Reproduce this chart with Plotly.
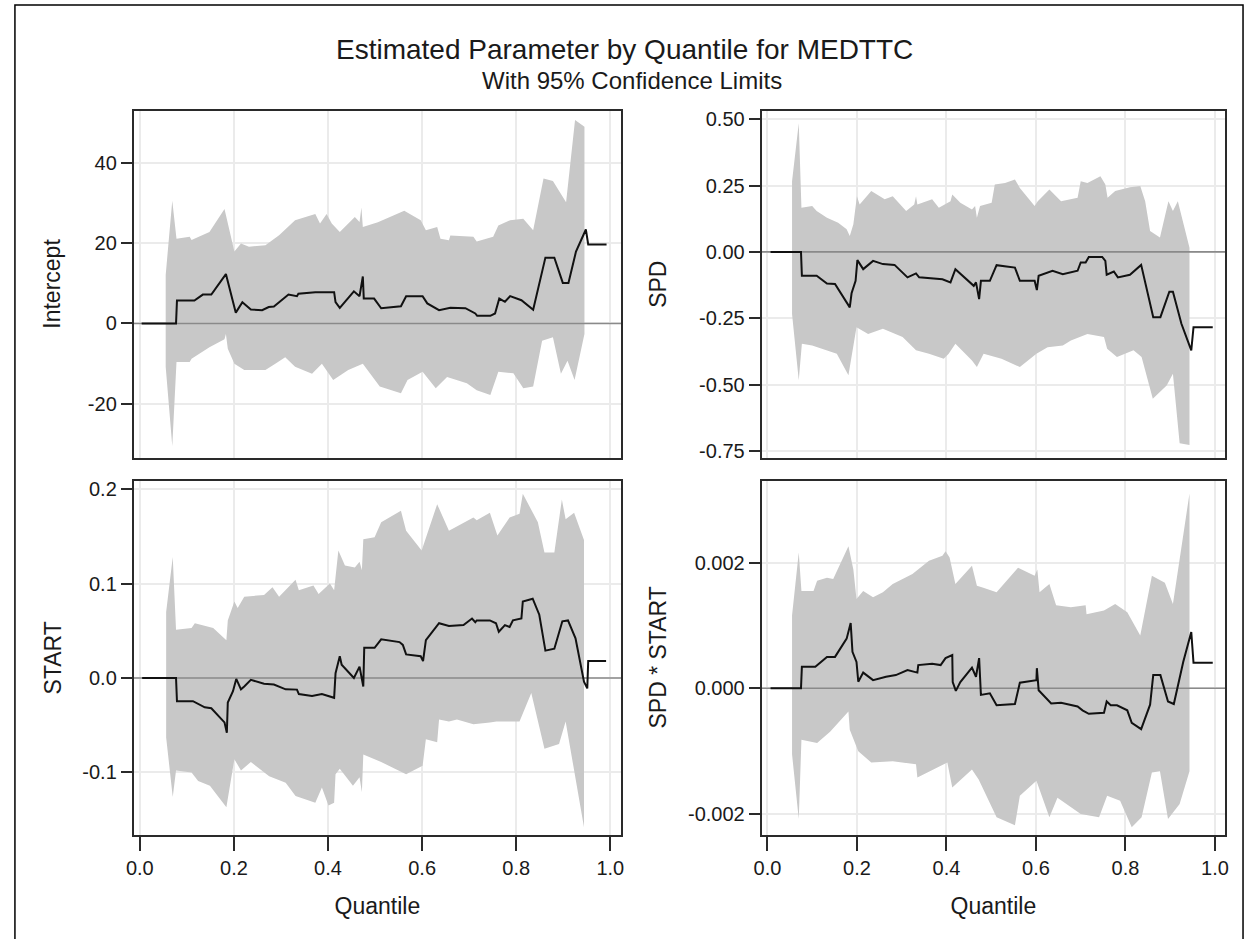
import plotly.graph_objects as go

W, H = 1250, 939

# ---------------- DATA ----------------
# Intercept
int_est_q = [0.004, 0.077, 0.079, 0.116, 0.134, 0.152, 0.183, 0.187, 0.204, 0.218, 0.236, 0.26, 0.274, 0.285,
             0.316, 0.334, 0.337, 0.373, 0.413, 0.416, 0.425, 0.455, 0.467, 0.474, 0.476, 0.498, 0.513, 0.555,
             0.566, 0.601, 0.611, 0.636, 0.66, 0.692, 0.706, 0.713, 0.717, 0.745, 0.755, 0.764, 0.776, 0.787,
             0.811, 0.836, 0.862, 0.881, 0.899, 0.911, 0.927, 0.948, 0.953, 0.992]
int_est_v = [0, 0, 5.7, 5.7, 7.2, 7.2, 12.3, 10.5, 2.7, 5.3, 3.5, 3.3, 4.1, 4.2,
             7.2, 6.8, 7.4, 7.8, 7.8, 5.3, 3.9, 8.0, 6.8, 11.7, 6.2, 6.2, 3.8, 4.3,
             6.8, 6.8, 5.0, 3.3, 3.9, 3.8, 3.0, 2.5, 1.9, 1.9, 2.5, 6.2, 5.4, 6.8,
             5.8, 3.4, 16.4, 16.4, 10.1, 10.1, 17.9, 23.4, 19.7, 19.7]
int_up_q = [0.055, 0.069, 0.078, 0.106, 0.11, 0.148, 0.180, 0.201, 0.215, 0.232, 0.267, 0.296, 0.33, 0.373,
            0.383, 0.397, 0.408, 0.425, 0.457, 0.467, 0.471, 0.474, 0.506, 0.562, 0.597, 0.608, 0.632, 0.639,
            0.657, 0.66, 0.709, 0.716, 0.751, 0.762, 0.787, 0.815, 0.836, 0.858, 0.878, 0.906, 0.925, 0.945]
int_up_v = [12.1, 30.6, 21.1, 21.6, 20.8, 22.8, 28.5, 17.9, 19.9, 19.1, 19.5, 22.0, 25.7, 27.3,
            24.9, 27.3, 24.9, 22.8, 26.5, 25.3, 28.9, 24.0, 25.2, 28.1, 25.7, 23.2, 24.0, 21.1,
            20.7, 21.9, 21.6, 20.4, 21.6, 24.4, 25.7, 26.1, 23.2, 36.1, 35.5, 30.2, 50.7, 49.0]
int_lo_q = [0.055, 0.069, 0.078, 0.106, 0.11, 0.148, 0.18, 0.183, 0.187, 0.201, 0.222, 0.267, 0.288, 0.309,
            0.33, 0.366, 0.387, 0.411, 0.443, 0.474, 0.51, 0.555, 0.569, 0.601, 0.629, 0.653, 0.695, 0.716,
            0.745, 0.762, 0.794, 0.815, 0.836, 0.855, 0.878, 0.895, 0.909, 0.924, 0.945]
int_lo_v = [-10.8, -30.5, -9.6, -9.6, -8.8, -5.9, -3.9, -2.6, -6.3, -10.0, -11.6, -11.6, -10.0, -8.4,
            -10.8, -12.5, -10.0, -14.1, -11.6, -10.0, -15.7, -17.4, -14.1, -12.0, -16.1, -13.3, -14.9, -16.6,
            -17.8, -12.0, -12.4, -16.1, -15.7, -4.3, -3.4, -12.5, -9.3, -14.1, -2.6]

# SPD
spd_est_q = [0.007, 0.075, 0.077, 0.11, 0.133, 0.151, 0.184, 0.188, 0.197, 0.201, 0.214, 0.236, 0.258, 0.284,
             0.313, 0.332, 0.339, 0.391, 0.409, 0.42, 0.461, 0.466, 0.473, 0.477, 0.497, 0.512, 0.534, 0.553,
             0.564, 0.597, 0.602, 0.606, 0.637, 0.66, 0.693, 0.7, 0.711, 0.718, 0.748, 0.755, 0.758, 0.774,
             0.783, 0.81, 0.835, 0.862, 0.878, 0.898, 0.906, 0.925, 0.947, 0.952, 0.995]
spd_est_v = [0, 0, -0.09, -0.09, -0.119, -0.121, -0.209, -0.156, -0.109, -0.031, -0.065, -0.034, -0.046, -0.049,
             -0.096, -0.081, -0.096, -0.103, -0.115, -0.065, -0.128, -0.115, -0.178, -0.109, -0.109, -0.05, -0.055, -0.059,
             -0.109, -0.109, -0.144, -0.09, -0.071, -0.084, -0.071, -0.04, -0.04, -0.019, -0.019, -0.034, -0.086, -0.074,
             -0.096, -0.086, -0.049, -0.246, -0.246, -0.15, -0.15, -0.271, -0.371, -0.284, -0.284]
spd_up_q = [0.055, 0.07, 0.076, 0.1, 0.11, 0.133, 0.158, 0.177, 0.184, 0.192, 0.2, 0.206, 0.232, 0.262,
            0.28, 0.31, 0.328, 0.332, 0.335, 0.368, 0.383, 0.409, 0.413, 0.431, 0.457, 0.464, 0.468, 0.475,
            0.501, 0.508, 0.531, 0.553, 0.564, 0.597, 0.604, 0.63, 0.656, 0.693, 0.7, 0.715, 0.744, 0.755,
            0.76, 0.777, 0.81, 0.833, 0.844, 0.855, 0.877, 0.896, 0.906, 0.917, 0.943]
spd_up_v = [0.266, 0.485, 0.166, 0.173, 0.154, 0.129, 0.11, 0.085, 0.06, 0.104, 0.21, 0.179, 0.229, 0.198,
            0.21, 0.154, 0.179, 0.21, 0.179, 0.198, 0.166, 0.191, 0.216, 0.185, 0.16, 0.173, 0.129, 0.173,
            0.185, 0.254, 0.26, 0.273, 0.241, 0.173, 0.191, 0.235, 0.191, 0.204, 0.266, 0.26, 0.285, 0.254,
            0.204, 0.229, 0.244, 0.248, 0.191, 0.079, 0.054, 0.191, 0.154, 0.191, 0.016]
spd_lo_q = [0.055, 0.07, 0.077, 0.1, 0.155, 0.181, 0.199, 0.225, 0.258, 0.302, 0.332, 0.361, 0.394, 0.405,
            0.42, 0.457, 0.468, 0.483, 0.523, 0.564, 0.601, 0.626, 0.66, 0.678, 0.715, 0.752, 0.759, 0.781,
            0.818, 0.836, 0.861, 0.892, 0.906, 0.921, 0.943]
spd_lo_v = [-0.234, -0.484, -0.346, -0.353, -0.384, -0.465, -0.284, -0.309, -0.29, -0.321, -0.371, -0.384, -0.403, -0.384,
            -0.346, -0.409, -0.434, -0.384, -0.403, -0.434, -0.384, -0.359, -0.353, -0.334, -0.309, -0.321, -0.365, -0.396,
            -0.371, -0.396, -0.553, -0.503, -0.459, -0.721, -0.728]

# START
st_est_q = [0.005, 0.077, 0.079, 0.113, 0.138, 0.152, 0.18, 0.185, 0.187, 0.198, 0.205, 0.215, 0.222, 0.236,
            0.264, 0.285, 0.31, 0.334, 0.338, 0.366, 0.387, 0.413, 0.416, 0.425, 0.429, 0.455, 0.467, 0.472,
            0.475, 0.477, 0.499, 0.513, 0.552, 0.559, 0.566, 0.597, 0.602, 0.608, 0.636, 0.657, 0.688, 0.706,
            0.713, 0.716, 0.744, 0.757, 0.763, 0.776, 0.786, 0.793, 0.811, 0.814, 0.835, 0.849, 0.862, 0.881,
            0.898, 0.91, 0.926, 0.944, 0.951, 0.953, 0.991]
st_est_v = [0, 0, -0.0246, -0.0246, -0.031, -0.032, -0.047, -0.058, -0.026, -0.014, -0.001, -0.012, -0.009, -0.002,
            -0.006, -0.007, -0.012, -0.0123, -0.017, -0.019, -0.017, -0.021, 0.005, 0.023, 0.014, 0.0, 0.012, -0.002,
            -0.009, 0.032, 0.032, 0.041, 0.038, 0.035, 0.025, 0.023, 0.018, 0.04, 0.058, 0.055, 0.056, 0.063,
            0.059, 0.061, 0.061, 0.058, 0.049, 0.056, 0.054, 0.061, 0.063, 0.081, 0.084, 0.067, 0.029, 0.031,
            0.06, 0.061, 0.042, -0.004, -0.011, 0.018, 0.018]
st_up_q = [0.056, 0.07, 0.077, 0.11, 0.117, 0.156, 0.184, 0.187, 0.201, 0.208, 0.222, 0.264, 0.282, 0.296,
           0.331, 0.338, 0.369, 0.38, 0.404, 0.413, 0.422, 0.436, 0.457, 0.467, 0.472, 0.475, 0.499, 0.513,
           0.555, 0.566, 0.599, 0.611, 0.632, 0.657, 0.709, 0.716, 0.744, 0.76, 0.786, 0.807, 0.814, 0.846,
           0.86, 0.881, 0.897, 0.905, 0.923, 0.944]
st_up_v = [0.07, 0.128, 0.051, 0.053, 0.058, 0.053, 0.04, 0.061, 0.081, 0.074, 0.086, 0.088, 0.096, 0.086,
           0.104, 0.093, 0.098, 0.089, 0.1, 0.093, 0.135, 0.119, 0.117, 0.123, 0.114, 0.147, 0.149, 0.165,
           0.177, 0.156, 0.135, 0.153, 0.184, 0.156, 0.17, 0.167, 0.175, 0.151, 0.17, 0.174, 0.195, 0.165,
           0.133, 0.133, 0.189, 0.168, 0.175, 0.146]
st_lo_q = [0.056, 0.07, 0.077, 0.11, 0.124, 0.149, 0.184, 0.201, 0.215, 0.236, 0.275, 0.31, 0.331, 0.373,
           0.387, 0.401, 0.413, 0.416, 0.425, 0.453, 0.467, 0.472, 0.475, 0.513, 0.566, 0.601, 0.608, 0.632,
           0.636, 0.657, 0.674, 0.709, 0.744, 0.758, 0.807, 0.832, 0.86, 0.891, 0.905, 0.944]
st_lo_v = [-0.063, -0.126, -0.098, -0.1, -0.109, -0.114, -0.137, -0.086, -0.098, -0.089, -0.104, -0.111, -0.125, -0.132,
           -0.116, -0.135, -0.132, -0.102, -0.096, -0.114, -0.105, -0.121, -0.081, -0.089, -0.102, -0.093, -0.065, -0.068,
           -0.044, -0.046, -0.044, -0.049, -0.047, -0.046, -0.046, -0.016, -0.075, -0.07, -0.046, -0.158]

# SPD * START
ss_est_q = [0.007, 0.075, 0.077, 0.107, 0.133, 0.151, 0.177, 0.186, 0.19, 0.199, 0.203, 0.214, 0.236, 0.265,
            0.287, 0.313, 0.335, 0.337, 0.368, 0.387, 0.398, 0.413, 0.414, 0.421, 0.431, 0.457, 0.466, 0.473,
            0.477, 0.497, 0.512, 0.553, 0.564, 0.601, 0.602, 0.606, 0.634, 0.656, 0.693, 0.704, 0.718, 0.752,
            0.758, 0.767, 0.781, 0.804, 0.814, 0.835, 0.855, 0.862, 0.878, 0.895, 0.908, 0.929, 0.947, 0.952, 0.995]
ss_est_v = [0, 0, 0.000342, 0.000342, 0.0005, 0.0005, 0.00079, 0.00104, 0.00058, 0.00042, 0.000105, 0.00025, 0.00013, 0.000184,
            0.00021, 0.00029, 0.00025, 0.00037, 0.00039, 0.00037, 0.00048, 0.00053, 0.0001, -0.00004, 0.0001, 0.00033, 0.000184, 0.00048,
            -0.000105, -0.00008, -0.00027, -0.00025, 0.00009, 0.00013, 0.00032, -0.00003, -0.00024, -0.00023, -0.00029, -0.00035, -0.000405, -0.00039,
            -0.00021, -0.00027, -0.00027, -0.00035, -0.00055, -0.00065, -0.00026, 0.00021, 0.00021, -0.00021, -0.00025, 0.00042, 0.000895, 0.000405, 0.000405]
ss_up_q = [0.055, 0.07, 0.076, 0.103, 0.111, 0.133, 0.147, 0.181, 0.192, 0.199, 0.214, 0.236, 0.258, 0.28,
           0.324, 0.361, 0.391, 0.398, 0.407, 0.42, 0.457, 0.468, 0.479, 0.512, 0.56, 0.597, 0.603, 0.608,
           0.63, 0.645, 0.678, 0.711, 0.713, 0.752, 0.777, 0.804, 0.833, 0.859, 0.888, 0.906, 0.943]
ss_up_v = [0.00116, 0.00216, 0.00155, 0.00155, 0.00171, 0.00176, 0.00174, 0.00226, 0.00189, 0.00142, 0.00155, 0.00145, 0.00153, 0.00166,
           0.00182, 0.00203, 0.00211, 0.00218, 0.00208, 0.00166, 0.00195, 0.00163, 0.00161, 0.00153, 0.00192, 0.00179, 0.00189, 0.00153,
           0.00166, 0.00132, 0.00129, 0.00132, 0.00118, 0.00124, 0.00134, 0.00121, 0.00084, 0.00179, 0.00168, 0.00134, 0.0031]
ss_lo_q = [0.055, 0.07, 0.076, 0.111, 0.14, 0.181, 0.184, 0.203, 0.232, 0.28, 0.332, 0.335, 0.402, 0.413,
           0.457, 0.472, 0.512, 0.553, 0.564, 0.601, 0.63, 0.648, 0.7, 0.741, 0.759, 0.788, 0.814, 0.836,
           0.859, 0.877, 0.895, 0.921, 0.943]
ss_lo_v = [-0.00105, -0.00208, -0.00082, -0.00087, -0.00069, -0.00037, -0.00066, -0.001, -0.00118, -0.00116, -0.00121, -0.00142, -0.00118, -0.00158,
           -0.00129, -0.00145, -0.00205, -0.00218, -0.00171, -0.00147, -0.00205, -0.00174, -0.002, -0.00205, -0.00171, -0.00179, -0.00221, -0.00205,
           -0.00134, -0.00132, -0.00208, -0.00184, -0.00132]

# Axis ticks / labels
x_tickvals = [0.0, 0.2, 0.4, 0.6, 0.8, 1.0]
x_ticktext = ["0.0", "0.2", "0.4", "0.6", "0.8", "1.0"]
int_tickvals = [-20, 0, 20, 40]
int_ticktext = ["-20", "0", "20", "40"]
spd_tickvals = [-0.75, -0.5, -0.25, 0.0, 0.25, 0.5]
spd_ticktext = ["-0.75", "-0.50", "-0.25", "0.00", "0.25", "0.50"]
st_tickvals = [-0.1, 0.0, 0.1, 0.2]
st_ticktext = ["-0.1", "0.0", "0.1", "0.2"]
ss_tickvals = [-0.002, 0.0, 0.002]
ss_ticktext = ["-0.002", "0.000", "0.002"]

panel_names = ["Intercept", "SPD", "START", "SPD * START"]
title_text = "Estimated Parameter by Quantile for MEDTTC"
subtitle_text = "With 95% Confidence Limits"
x_title = "Quantile"

X_RANGE = [-0.0128, 1.0228]
Y_RANGES = [[-33.4, 53.0], [-0.775, 0.532], [-0.166, 0.2087], [-0.00233, 0.0033]]

# ---------------- STYLE ----------------
FONT = "Liberation Sans, Arial, sans-serif"
BAND = "#c8c8c8"
GRID = "#ebebeb"
FRAME = "#2a2a2a"
TEXT = "#1a1a1a"

def px_x(p):
    return p / W

def px_y(p):
    return 1 - p / H

x_domains = [[px_x(127), px_x(619)], [px_x(761), px_x(1229)]]
y_domains = [[px_y(458), px_y(108.5)], [px_y(838), px_y(481.5)]]

panels = [
    (int_est_q, int_est_v, int_up_q, int_up_v, int_lo_q, int_lo_v, int_tickvals, int_ticktext),
    (spd_est_q, spd_est_v, spd_up_q, spd_up_v, spd_lo_q, spd_lo_v, spd_tickvals, spd_ticktext),
    (st_est_q, st_est_v, st_up_q, st_up_v, st_lo_q, st_lo_v, st_tickvals, st_ticktext),
    (ss_est_q, ss_est_v, ss_up_q, ss_up_v, ss_lo_q, ss_lo_v, ss_tickvals, ss_ticktext),
]

fig = go.Figure()
layout = dict(
    width=W, height=H,
    margin=dict(l=0, r=0, t=0, b=0),
    paper_bgcolor="white", plot_bgcolor="white",
    showlegend=False,
    font=dict(family=FONT, color=TEXT, size=20),
    annotations=[], shapes=[],
)

for i, (eq, ev, uq, uv, lq, lv, tv, tt) in enumerate(panels):
    n = i + 1
    xa = "x" if n == 1 else f"x{n}"
    ya = "y" if n == 1 else f"y{n}"
    col = i % 2
    row = i // 2
    # confidence band polygon
    fig.add_trace(go.Scatter(
        x=list(uq) + list(lq)[::-1], y=list(uv) + list(lv)[::-1],
        mode="lines", fill="toself", fillcolor=BAND, line=dict(width=0, color=BAND),
        xaxis=xa, yaxis=ya, hoverinfo="skip"))
    # zero reference
    fig.add_trace(go.Scatter(
        x=X_RANGE, y=[0, 0], mode="lines", line=dict(color="#8a8a8a", width=1.6),
        xaxis=xa, yaxis=ya, hoverinfo="skip"))
    # estimate
    fig.add_trace(go.Scatter(
        x=eq, y=ev, mode="lines", line=dict(color="#111111", width=2),
        xaxis=xa, yaxis=ya))

    xkey = "xaxis" if n == 1 else f"xaxis{n}"
    ykey = "yaxis" if n == 1 else f"yaxis{n}"
    bottom = row == 1
    layout[xkey] = dict(
        domain=x_domains[col], anchor=ya, range=X_RANGE,
        tickvals=x_tickvals, ticktext=x_ticktext,
        showticklabels=bottom, ticks="outside" if bottom else "",
        ticklen=14, tickwidth=2, tickcolor=FRAME,
        showgrid=True, gridcolor=GRID, gridwidth=1.5, zeroline=False,
        showline=True, linecolor=FRAME, linewidth=2, mirror=True,
        tickfont=dict(size=20, family=FONT, color=TEXT),
    )
    if bottom:
        layout[xkey]["title"] = dict(text=x_title, font=dict(size=23, family=FONT, color=TEXT), standoff=20)
    layout[ykey] = dict(
        domain=y_domains[row], anchor=xa, range=Y_RANGES[i],
        tickvals=tv, ticktext=tt,
        ticks="outside", ticklen=11, tickwidth=2, tickcolor=FRAME,
        showgrid=True, gridcolor=GRID, gridwidth=1.5, zeroline=False,
        showline=True, linecolor=FRAME, linewidth=2, mirror=True,
        tickfont=dict(size=20, family=FONT, color=TEXT),
    )
    layout["annotations"].append(dict(
        text=panel_names[i], textangle=-90, showarrow=False,
        xref="paper", x=px_x(45 if col == 0 else 656), xanchor="center",
        yref=f"{ya} domain", y=0.5, yanchor="middle",
        font=dict(size=23, family=FONT, color=TEXT)))

layout["annotations"].append(dict(
    text=title_text, showarrow=False, xref="paper", yref="paper",
    x=px_x(622), y=px_y(47), xanchor="center", yanchor="middle",
    font=dict(size=28, family=FONT, color=TEXT)))
layout["annotations"].append(dict(
    text=subtitle_text, showarrow=False, xref="paper", yref="paper",
    x=px_x(630), y=px_y(78), xanchor="center", yanchor="middle",
    font=dict(size=24, family=FONT, color=TEXT)))

layout["shapes"].append(dict(
    type="rect", xref="paper", yref="paper",
    x0=px_x(7), x1=px_x(1247), y0=-0.05, y1=px_y(2),
    line=dict(color="#000000", width=1.5), fillcolor="rgba(0,0,0,0)", layer="above"))

fig.update_layout(**layout)
fig.write_html(
    "out.html",
    config={"displayModeBar": False},
    post_script="document.body.style.margin='0';document.body.style.padding='0';"
                "document.documentElement.style.overflow='hidden';",
)
